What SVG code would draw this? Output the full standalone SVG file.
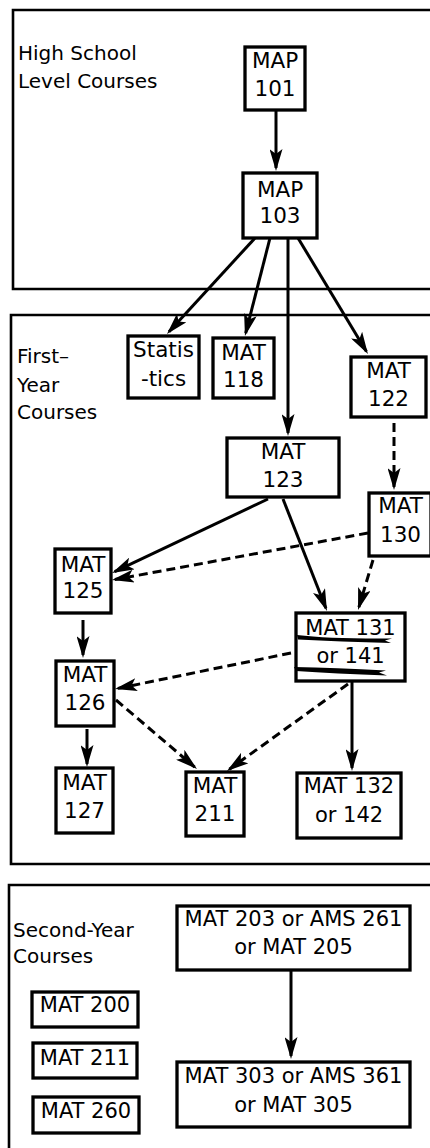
<svg xmlns="http://www.w3.org/2000/svg" width="430" height="1148" viewBox="0 0 430 1148">
<style>
  .sec { fill: none; stroke: #000; stroke-width: 2.6; }
  .box { fill: #fff; stroke: #000; stroke-width: 3.3; }
  .lbl { font-family: "DejaVu Sans", "Liberation Sans", sans-serif; font-size: 20px; fill: #000; }
  .t { font-family: "DejaVu Sans", "Liberation Sans", sans-serif; font-size: 21.5px; fill: #000; text-anchor: middle; }
  .tw { font-family: "DejaVu Sans", "Liberation Sans", sans-serif; font-size: 21px; fill: #000; text-anchor: middle; }
  .c { fill: none; stroke: #000; stroke-width: 3; marker-end: url(#ah); }
  .d { fill: none; stroke: #000; stroke-width: 3; stroke-dasharray: 9 5; marker-end: url(#ah); }
  .scr { fill: #000; }
</style>
<defs>
  <marker id="ah" viewBox="0 0 22 13" refX="19" refY="6.5" markerWidth="22" markerHeight="13" markerUnits="userSpaceOnUse" orient="auto">
    <path d="M0,0 L22,6.5 L0,13 L5,6.5 Z" fill="#000"/>
  </marker>
</defs>
<rect width="430" height="1148" fill="#fff"/>

<g id="sections">
  <path class="sec" d="M432,10 H13 V289 H432"/>
  <path class="sec" d="M432,315 H11 V864 H432"/>
  <path class="sec" d="M432,885 H9 V1150"/>
  <text class="lbl" x="18" y="60">High School</text>
  <text class="lbl" x="18" y="88">Level Courses</text>
  <text class="lbl" x="17" y="363">First–</text>
  <text class="lbl" x="17" y="392">Year</text>
  <text class="lbl" x="17" y="419">Courses</text>
  <text class="lbl" x="13" y="937">Second-Year</text>
  <text class="lbl" x="13" y="963">Courses</text>
</g>

<g id="connectors">
  <line class="c" x1="276" y1="110" x2="276" y2="168"/>
  <line class="c" x1="255" y1="238" x2="169" y2="331.8"/>
  <line class="c" x1="270" y1="238" x2="245.7" y2="333.1"/>
  <line class="c" x1="288" y1="238" x2="288" y2="433"/>
  <line class="c" x1="298" y1="238" x2="366.4" y2="351.4"/>
  <line class="d" x1="394" y1="423" x2="394" y2="487"/>
  <line class="c" x1="268" y1="499" x2="114.7" y2="571.7"/>
  <line class="d" x1="368" y1="533" x2="114.9" y2="579.5"/>
  <line class="c" x1="283" y1="499" x2="325.9" y2="608.2"/>
  <line class="d" x1="373" y1="560" x2="358.9" y2="607.1"/>
  <line class="c" x1="83" y1="620" x2="83" y2="655"/>
  <line class="d" x1="291" y1="653" x2="117.9" y2="688.4"/>
  <line class="d" x1="116" y1="700" x2="194.7" y2="767.1"/>
  <line class="d" x1="348" y1="684" x2="229.4" y2="769.2"/>
  <line class="c" x1="352" y1="681" x2="352" y2="768"/>
  <line class="c" x1="87" y1="729" x2="87" y2="764"/>
  <line class="c" x1="291" y1="970" x2="291" y2="1056"/>
</g>

<g id="map101"><rect class="box" x="245" y="47" width="60" height="63"/><text class="t" x="275" y="68">MAP</text><text class="t" x="275" y="96">101</text></g>
<g id="map103"><rect class="box" x="243" y="173" width="74" height="65"/><text class="t" x="280" y="197">MAP</text><text class="t" x="280" y="223">103</text></g>
<g id="statistics"><rect class="box" x="128" y="336" width="71" height="62"/><text class="t" x="163.5" y="357">Statis</text><text class="t" x="163.5" y="386">-tics</text></g>
<g id="mat118"><rect class="box" x="213" y="338" width="61" height="60"/><text class="t" x="243.5" y="360">MAT</text><text class="t" x="243.5" y="387">118</text></g>
<g id="mat122"><rect class="box" x="351" y="357" width="75" height="60"/><text class="t" x="388.5" y="378">MAT</text><text class="t" x="388.5" y="406">122</text></g>
<g id="mat123"><rect class="box" x="227" y="438" width="112" height="59"/><text class="t" x="283" y="459">MAT</text><text class="t" x="283" y="487">123</text></g>
<g id="mat130"><rect class="box" x="369" y="493" width="62" height="63"/><text class="t" x="400.5" y="513">MAT</text><text class="t" x="400.5" y="542">130</text></g>
<g id="mat125"><rect class="box" x="55" y="549" width="56" height="64"/><text class="t" x="83" y="572">MAT</text><text class="t" x="83" y="598">125</text></g>
<g id="mat131">
  <rect class="box" x="296" y="613" width="109" height="68"/>
  <text class="tw" x="350.5" y="635">MAT 131</text>
  <text class="tw" x="350.5" y="663">or 141</text>
  <path class="scr" d="M297,635 Q330,639 392,638.5 L385,640.5 L391,643 Q340,641.5 298,639.5 Z"/>
  <path class="scr" d="M294,667 Q335,667.5 386,670.5 L379,672.5 L387,675.5 Q335,673.5 296,671 Z"/>
</g>
<g id="mat126"><rect class="box" x="56" y="661" width="58" height="65"/><text class="t" x="85" y="682">MAT</text><text class="t" x="85" y="710">126</text></g>
<g id="mat127"><rect class="box" x="56" y="768" width="57" height="65"/><text class="t" x="84.5" y="790">MAT</text><text class="t" x="84.5" y="818">127</text></g>
<g id="mat211a"><rect class="box" x="186" y="772" width="58" height="64"/><text class="t" x="215" y="793">MAT</text><text class="t" x="215" y="821">211</text></g>
<g id="mat132"><rect class="box" x="297" y="773" width="104" height="65"/><text class="tw" x="349" y="793">MAT 132</text><text class="tw" x="349" y="822">or 142</text></g>
<g id="mat203"><rect class="box" x="177" y="906" width="233" height="64"/><text class="tw" x="293.5" y="926">MAT 203 or AMS 261</text><text class="tw" x="293.5" y="954">or MAT 205</text></g>
<g id="mat303"><rect class="box" x="177" y="1062" width="233" height="65"/><text class="tw" x="293.5" y="1083">MAT 303 or AMS 361</text><text class="tw" x="293.5" y="1112">or MAT 305</text></g>
<g id="mat200"><rect class="box" x="32" y="992" width="106" height="35"/><text class="tw" x="85" y="1012">MAT 200</text></g>
<g id="mat211b"><rect class="box" x="33" y="1043" width="104" height="35"/><text class="tw" x="85" y="1065">MAT 211</text></g>
<g id="mat260"><rect class="box" x="33" y="1097" width="106" height="36"/><text class="tw" x="86" y="1118">MAT 260</text></g>
</svg>
